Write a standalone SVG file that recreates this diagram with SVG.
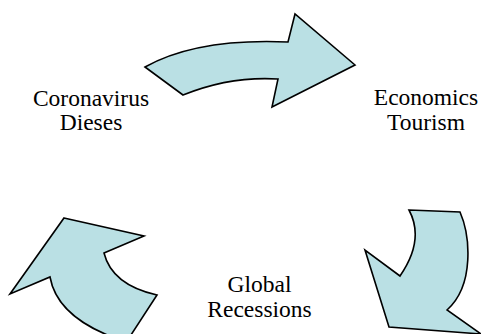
<svg xmlns="http://www.w3.org/2000/svg" width="481" height="334" viewBox="0 0 481 334">
<style>
.arrow{fill:#BAE0E4;stroke:#000;stroke-width:1.6;stroke-linejoin:miter}
.lbl{font-family:"Liberation Serif","Times New Roman",serif;font-size:23.5px;fill:#000;text-anchor:middle}
</style>
<rect width="481" height="334" fill="#fff"/>
<g id="connectors">
<path id="arrow-top" class="arrow" d="M145,67 Q197,38 288,42 L295,14 L355,65 L272,107 L278,79 Q230,76 183,95 Z"/>
<path id="arrow-right" class="arrow" d="M409,210 L460,212 C470,235 475,285 447,310 L481,334 L389,327 L365,250 L400,276 Q425,240 409,210 Z"/>
<path id="arrow-left" class="arrow" d="M64,218 L144,236 L104,253 Q112,285 157,295 L129,338 L115,338 C80,325 55,305 50,277 L10,294 Z"/>
</g>
<g id="node-coronavirus">
<text class="lbl" x="91" y="106">Coronavirus</text>
<text class="lbl" x="91" y="130">Dieses</text>
</g>
<g id="node-economics">
<text class="lbl" x="426" y="105">Economics</text>
<text class="lbl" x="426" y="129.5">Tourism</text>
</g>
<g id="node-global">
<text class="lbl" x="259.5" y="292">Global</text>
<text class="lbl" x="259.5" y="316.5">Recessions</text>
</g>
</svg>
